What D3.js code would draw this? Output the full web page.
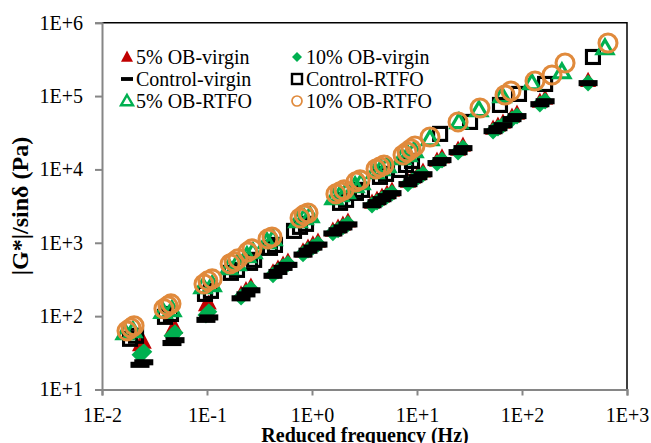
<!DOCTYPE html>
<html>
<head>
<meta charset="utf-8">
<script src="https://cdn.jsdelivr.net/npm/d3@7"></script>
<style>
  body { margin: 0; background: #fff; }
  text { font-family: "Liberation Serif", "Times New Roman", serif; fill: #000; }
</style>
</head>
<body>
<svg id="chart" width="651" height="443"></svg>
<script>
// ---- axis ticks ----
const xTicks = [0.01, 0.1, 1, 10, 100, 1000];
const xTickLabels = ["1E-2", "1E-1", "1E+0", "1E+1", "1E+2", "1E+3"];
const yTicks = [10, 100, 1e3, 1e4, 1e5, 1e6];
const yTickLabels = ["1E+1", "1E+2", "1E+3", "1E+4", "1E+5", "1E+6"];

// ---- unaged (virgin) binders: reduced frequency (Hz) and |G*|/sin(delta) (Pa) ----
const virginFreq = [0.0230, 0.0250, 0.0464, 0.0496, 0.0977, 0.104, 0.211, 0.235, 0.262,
  0.425, 0.474, 0.530, 0.590, 0.821, 0.916, 1.02, 1.14, 1.58, 1.77, 1.97, 2.20,
  3.73, 4.16, 4.64, 5.18, 5.78, 8.20, 9.16, 10.2, 11.4, 15.5, 17.3, 24.6, 27.4,
  53.0, 59.0, 65.9, 80.3, 89.6, 148, 166, 426];
const ob5Virgin = [40.6, 44, 65, 70, 143, 150, 200, 228, 255,
  400, 450, 510, 560, 770, 870, 960, 1050, 1480, 1630, 1790, 1970,
  3560, 3920, 4300, 4730, 5200, 6900, 7800, 8600, 9450, 13300, 14700, 18800, 21300,
  36400, 40000, 43900, 53000, 58300, 84700, 93000, 163000];
const ob10Virgin = [29.7, 32.6, 54.0, 59.2, 104, 115, 183, 208, 235,
  366, 414, 470, 516, 706, 800, 879, 966, 1365, 1500, 1648, 1811,
  3282, 3606, 3963, 4355, 4786, 6353, 7200, 7910, 8690, 12270, 13490, 17340, 19640,
  33500, 36750, 40400, 48800, 53600, 78000, 85700, 150700];
const controlVirgin = [21.7, 23.5, 43, 47, 89, 96, 175, 198, 225,
  355, 400, 455, 500, 690, 780, 860, 945, 1340, 1480, 1620, 1780,
  3250, 3580, 3930, 4320, 4750, 6300, 7150, 7850, 8600, 12200, 13400, 17200, 19500,
  33200, 36500, 40100, 48500, 53300, 77500, 85000, 150000];

// ---- RTFO-aged binders ----
const controlRtfoFreq = [0.0185, 0.0211, 0.0398, 0.0454, 0.0957, 0.109, 0.169, 0.193,
  0.257, 0.281, 0.398, 0.444, 0.674, 0.769, 0.877, 1.85, 2.11, 2.62, 2.99, 4.44, 5.07,
  6.89, 7.86, 8.96, 16.6, 32.0, 61.7, 93.6, 166, 474];
const controlRtfo = [49.1, 54.0, 97.8, 107, 201, 221, 389, 427,
  532, 585, 852, 935, 1452, 1648, 1811, 3500, 3846, 4786, 5260, 7910, 8690,
  9840, 11500, 13060, 30500, 44400, 75700, 106900, 146200, 341000];

const ob5RtfoFreq = [0.0166, 0.0197, 0.0381, 0.0464, 0.0916, 0.112, 0.162, 0.193,
  0.240, 0.274, 0.372, 0.425, 0.736, 0.840, 0.957, 1.62, 1.85, 2.11, 2.57, 2.93,
  3.98, 4.54, 5.18, 7.19, 8.20, 9.36, 13.3, 25.1, 38.9, 64.6, 124, 240, 617];
const ob5Rtfo = [59.2, 63.0, 115, 122, 251, 267, 455, 516,
  663, 752, 1028, 1130, 1987, 2183, 2323, 4090, 4500, 4940, 5960, 6550,
  9250, 10160, 11170, 14350, 15770, 17870, 26000, 44400, 64700, 100300, 150800, 213000, 452000];

const ob10RtfoFreq = [0.0173, 0.0189, 0.0202, 0.0389, 0.0425, 0.0454, 0.0936, 0.102, 0.112,
  0.166, 0.181, 0.197, 0.245, 0.268, 0.381, 0.416, 0.769, 0.840, 0.916,
  1.69, 1.85, 2.02, 2.62, 2.87, 4.07, 4.44, 4.85, 7.36, 8.04, 8.77, 9.57,
  13.3, 24.6, 39.8, 68.9, 78.5, 133, 193, 257, 659];
const ob10Rtfo = [63, 69, 74, 126, 138, 147, 275, 303, 322,
  516, 550, 604, 752, 826, 1130, 1200, 2183, 2400, 2550,
  4640, 4940, 5260, 6760, 7200, 10160, 10800, 11500, 15770, 17300, 19000, 20900,
  27700, 44400, 68800, 103500, 117000, 160700, 193600, 282600, 529000];

const seriesNames = ["5% OB-virgin", "10% OB-virgin", "Control-virgin",
  "Control-RTFO", "5% OB-RTFO", "10% OB-RTFO"];

// ---- marker shapes ----
const RED = "#C00000", GREEN = "#00B050", ORANGE = "#E08A3C";
const shapes = {
  triFill: (g, s) => g.append("path")
    .attr("d", `M0,${-s * 0.55}L${s / 2},${s * 0.4}L${-s / 2},${s * 0.4}Z`)
    .attr("fill", RED),
  diamond: (g, s) => g.append("path")
    .attr("d", `M0,${-s / 2}L${s / 2},0L0,${s / 2}L${-s / 2},0Z`)
    .attr("fill", GREEN),
  dash: (g, s) => g.append("rect")
    .attr("x", -s / 2).attr("y", -s * 0.16).attr("width", s).attr("height", s * 0.32)
    .attr("fill", "#000"),
  square: (g, s) => g.append("rect")
    .attr("x", -s / 2).attr("y", -s / 2).attr("width", s).attr("height", s)
    .attr("fill", "none").attr("stroke", "#000").attr("stroke-width", s * 0.24),
  triOpen: (g, s) => g.append("path")
    .attr("d", `M0,${-s * 0.5}L${s / 2},${s * 0.36}L${-s / 2},${s * 0.36}Z`)
    .attr("fill", "none").attr("stroke", GREEN).attr("stroke-width", s * 0.2)
    .attr("stroke-linejoin", "miter"),
  circle: (g, s) => g.append("circle")
    .attr("r", s / 2).attr("fill", "none").attr("stroke", ORANGE).attr("stroke-width", s * 0.17)
};

const series = [
  { name: seriesNames[0], f: virginFreq, g: ob5Virgin, shape: "triFill", size: 16, legSize: 12 },
  { name: seriesNames[1], f: virginFreq, g: ob10Virgin, shape: "diamond", size: 17, legSize: 10 },
  { name: seriesNames[2], f: virginFreq, g: controlVirgin, shape: "dash", size: 19, legSize: 12 },
  { name: seriesNames[3], f: controlRtfoFreq, g: controlRtfo, shape: "square", size: 13, legSize: 10 },
  { name: seriesNames[4], f: ob5RtfoFreq, g: ob5Rtfo, shape: "triOpen", size: 16, legSize: 12 },
  { name: seriesNames[5], f: ob10RtfoFreq, g: ob10Rtfo, shape: "circle", size: 18, legSize: 10 }
];

// ---- layout ----
const svg = d3.select("#chart");
const plot = { left: 102, right: 627, top: 22.7, bottom: 389.5 };
const x = d3.scaleLog().domain([0.01, 1000]).range([plot.left, plot.right]);
const y = d3.scaleLog().domain([10, 1e6]).range([plot.bottom, plot.top]);

// plot-area frame (top & right edges)
svg.append("path")
  .attr("d", `M${plot.left},${plot.top}H${plot.right}V${plot.bottom}`)
  .attr("fill", "none").attr("stroke", "#000").attr("stroke-width", 1.5);

// markers
const marks = svg.append("g");
series.forEach(s => {
  const grp = marks.append("g");
  s.f.forEach((fv, i) => {
    const m = grp.append("g").attr("transform", `translate(${x(fv)},${y(s.g[i])})`);
    shapes[s.shape](m, s.size);
  });
});

// axes
const axisColor = "#868686";
const yAxis = svg.append("g").attr("transform", `translate(${plot.left},0)`)
  .call(d3.axisLeft(y).tickValues(yTicks).tickFormat((d, i) => yTickLabels[i]).tickSize(7).tickPadding(12));
const xAxis = svg.append("g").attr("transform", `translate(0,${plot.bottom})`)
  .call(d3.axisBottom(x).tickValues(xTicks).tickFormat((d, i) => xTickLabels[i]).tickSize(6).tickPadding(12));
[yAxis, xAxis].forEach(a => {
  a.select(".domain").attr("stroke", axisColor).attr("stroke-width", 2);
  a.selectAll(".tick line").attr("stroke", axisColor).attr("stroke-width", 2);
  a.selectAll(".tick text").attr("font-family", "Liberation Serif").attr("font-size", 20).attr("fill", "#000");
});

// axis titles
svg.append("text")
  .attr("x", 365).attr("y", 442).attr("text-anchor", "middle")
  .attr("font-size", 20).attr("font-weight", "bold")
  .text("Reduced frequency (Hz)");
svg.append("text")
  .attr("transform", "translate(28,206) rotate(-90)").attr("text-anchor", "middle")
  .attr("font-size", 24).attr("font-weight", "bold")
  .text("|G*|/sinδ (Pa)");

// legend
const legCols = [127, 297], legRows = [57, 79, 101];
series.forEach((s, i) => {
  const cx = legCols[i % 2], cy = legRows[Math.floor(i / 2)];
  const m = svg.append("g").attr("transform", `translate(${cx},${cy})`);
  shapes[s.shape](m, s.legSize);
  svg.append("text").attr("x", cx + 9).attr("y", cy + 7)
    .attr("font-size", 20).text(s.name);
});
</script>
</body>
</html>
